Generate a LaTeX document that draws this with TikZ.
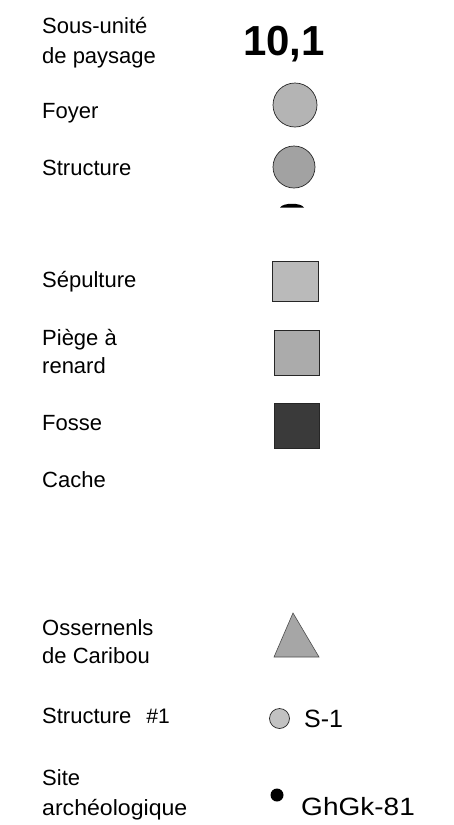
\documentclass[tikz,border=0pt]{standalone}
\usepackage{fontspec}
\setmainfont{Liberation Sans}
\definecolor{stipA}{HTML}{B4B4B4}
\definecolor{stipB}{HTML}{A2A2A2}
\definecolor{stipC}{HTML}{BABABA}
\definecolor{stipD}{HTML}{ABABAB}
\definecolor{stipE}{HTML}{3A3A3A}
\definecolor{stipF}{HTML}{A6A6A6}
\definecolor{stipG}{HTML}{C2C2C2}
\begin{document}
\begin{tikzpicture}[x=1pt,y=-1pt,
  lbl/.style={anchor=base west, inner sep=0pt, font=\fontsize{22}{26}\selectfont},
  val/.style={anchor=base west, inner sep=0pt, font=\fontsize{25}{30}\selectfont},
  symc/.style={circle, draw=black!85, line width=0.7pt, inner sep=0pt},
  symr/.style={rectangle, draw=black!85, line width=0.6pt, inner sep=0pt}]
\useasboundingbox (0,0) rectangle (454,825);
% labels
\node[lbl] (t1a) at (42,33) {Sous-unité};
\node[lbl] (t1b) at (42,63) {de paysage};
\node[lbl] (t2) at (42,118) {Foyer};
\node[lbl] (t3) at (42,175) {Structure};
\node[lbl] (t4) at (42,287) {Sépulture};
\node[lbl] (t5a) at (42,345) {Piège à};
\node[lbl] (t5b) at (42,373) {renard};
\node[lbl] (t6) at (42,430) {Fosse};
\node[lbl] (t7) at (42,487) {Cache};
\node[lbl] (t8a) at (42,635) {Ossernenls};
\node[lbl] (t8b) at (42,663) {de Caribou};
\node[lbl] (t9) at (42,723) {Structure};
\node[anchor=base west, inner sep=0pt, font=\fontsize{21}{24}\selectfont] (t9n) at (146,723) {\textit{\#}1};
\node[lbl] (t10a) at (42,785) {Site};
\node[lbl, xscale=1.05] (t10b) at (42,815) {archéologique};
% symbols
\node[anchor=base west, inner sep=0pt, font=\fontsize{42}{46}\selectfont\bfseries] (v1) at (243,55) {10,1};
\node[symc, fill=stipA, minimum size=44pt] (c1) at (295,105) {};
\node[symc, fill=stipB, minimum size=42pt] (c2) at (294,167) {};
\fill (280,207.5) .. controls (283,202.5) and (301,202.5) .. (304,207.5) -- cycle;
\node[symr, fill=stipC, minimum width=46pt, minimum height=40pt] (r1) at (295,281) {};
\node[symr, fill=stipD, minimum width=45pt, minimum height=45pt] (r2) at (296.5,352.5) {};
\node[symr, fill=stipE, minimum width=45pt, minimum height=45pt] (r3) at (296.5,425.5) {};
\coordinate (tA) at (293,613);
\coordinate (tB) at (319,657);
\coordinate (tC) at (274,657);
\filldraw[fill=stipF, draw=black!70, line width=0.6pt] (tA) -- (tB) -- (tC) -- cycle;
\node[symc, fill=stipG, minimum size=20pt] (c3) at (279.5,718.5) {};
\node[val] (s1) at (304,727) {S-1};
\node[circle, fill=black, inner sep=0pt, minimum size=13pt] (c4) at (277,795) {};
\node[val, xscale=1.12] (s2) at (301,815) {GhGk-81};
\end{tikzpicture}
\end{document}
